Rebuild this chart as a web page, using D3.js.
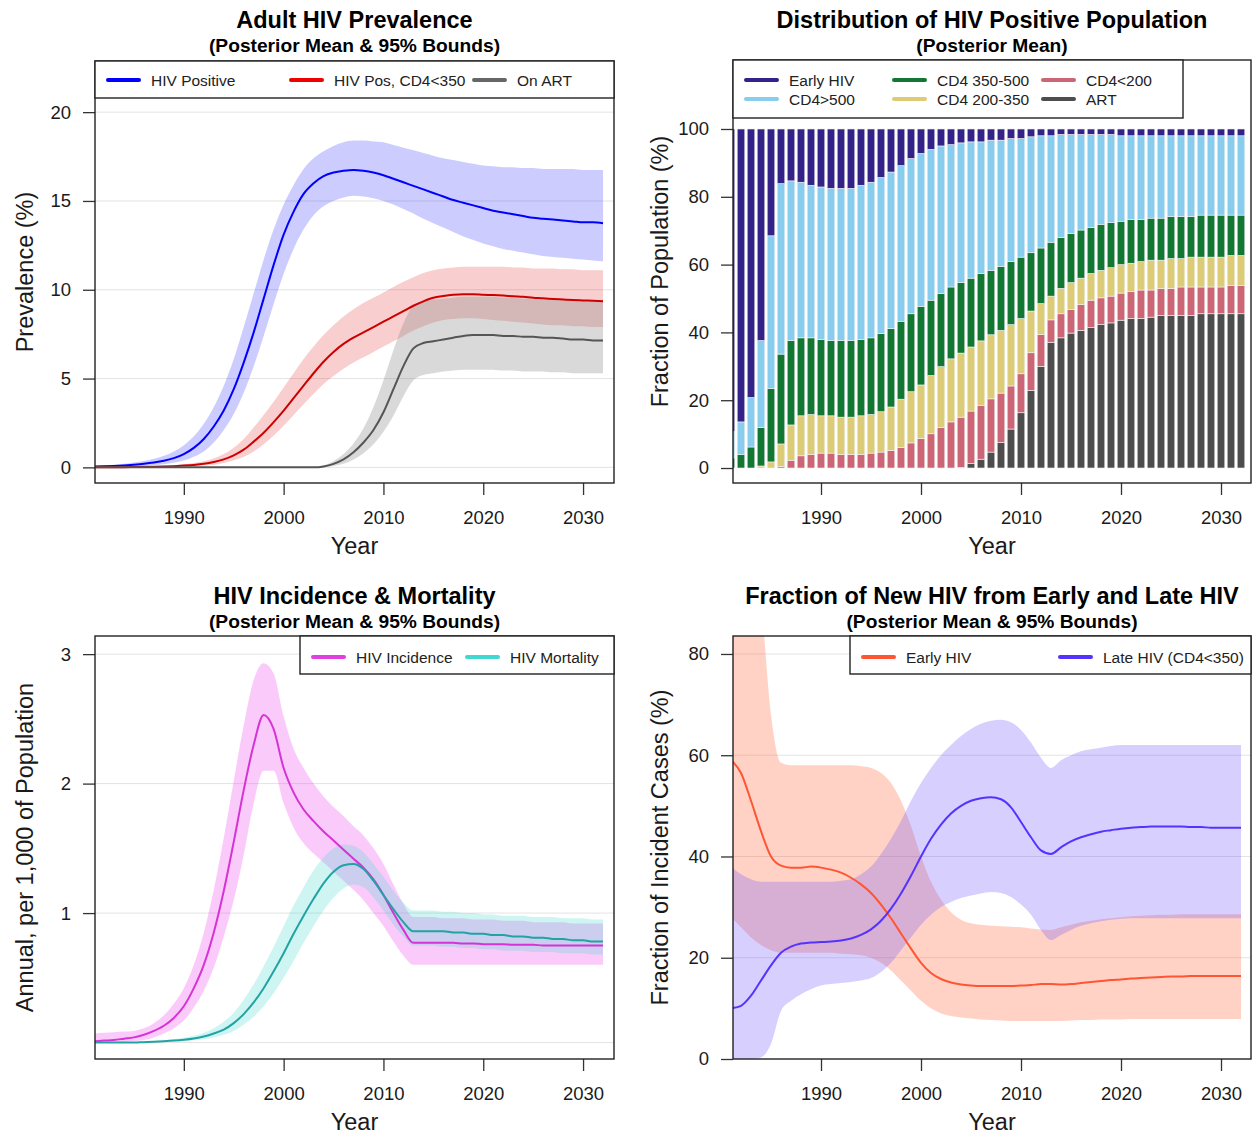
<!DOCTYPE html>
<html>
<head>
<meta charset="utf-8">
<script src="https://cdn.jsdelivr.net/npm/d3@7"></script>
<style>
  html, body { margin: 0; padding: 0; background: #fff; }
  svg { display: block; font-family: "Liberation Sans", Arial, sans-serif; }
</style>
</head>
<body>
<svg id="chart" width="1254" height="1135"></svg>
<script>
// ---- data ---------------------------------------------------------------
const years = d3.range(1981, 2033);
const xTicks = [1990, 2000, 2010, 2020, 2030];

// Adult HIV prevalence (%)
const prevMean = [0.05,0.06,0.08,0.11,0.15,0.2,0.27,0.37,0.52,0.75,1.1,1.6,2.3,3.2,4.4,5.9,7.6,9.5,11.4,13.1,14.4,15.4,16.0,16.4,16.6,16.7,16.75,16.7,16.6,16.45,16.25,16.05,15.85,15.65,15.45,15.25,15.05,14.9,14.75,14.6,14.45,14.35,14.25,14.15,14.05,14.0,13.95,13.9,13.85,13.8,13.8,13.75];
const prevHi = [0.1,0.12,0.15,0.2,0.27,0.36,0.48,0.65,0.9,1.25,1.75,2.45,3.4,4.6,6.1,7.9,9.8,11.7,13.4,14.8,15.9,16.8,17.4,17.8,18.1,18.3,18.4,18.4,18.35,18.3,18.15,18.0,17.85,17.7,17.55,17.4,17.3,17.2,17.1,17.0,16.95,16.9,16.9,16.85,16.85,16.8,16.8,16.8,16.8,16.75,16.75,16.75];
const prevLo = [0.01,0.02,0.03,0.05,0.07,0.1,0.13,0.18,0.26,0.38,0.6,0.9,1.4,2.1,3.0,4.2,5.7,7.4,9.2,10.9,12.3,13.4,14.2,14.7,15.0,15.2,15.3,15.25,15.15,15.0,14.8,14.55,14.3,14.0,13.75,13.5,13.25,13.0,12.8,12.6,12.45,12.3,12.2,12.1,12.0,11.9,11.85,11.8,11.75,11.7,11.65,11.6];
const cd4Mean = [0,0,0.01,0.01,0.02,0.03,0.04,0.05,0.07,0.1,0.14,0.2,0.3,0.45,0.68,1.0,1.45,1.95,2.55,3.2,3.9,4.6,5.3,5.95,6.5,6.95,7.3,7.6,7.9,8.2,8.5,8.8,9.1,9.35,9.55,9.65,9.72,9.75,9.75,9.72,9.7,9.67,9.63,9.6,9.55,9.52,9.48,9.45,9.42,9.4,9.38,9.35];
const cd4Hi = [0.01,0.01,0.02,0.03,0.04,0.05,0.07,0.09,0.12,0.17,0.24,0.34,0.5,0.75,1.1,1.6,2.25,2.95,3.7,4.5,5.3,6.1,6.8,7.45,8.0,8.5,8.9,9.25,9.55,9.85,10.15,10.45,10.7,10.95,11.1,11.2,11.25,11.3,11.3,11.3,11.3,11.3,11.25,11.25,11.2,11.2,11.2,11.15,11.15,11.1,11.1,11.1];
const cd4Lo = [0,0,0,0,0.01,0.01,0.02,0.03,0.04,0.05,0.07,0.1,0.15,0.25,0.4,0.6,0.9,1.3,1.8,2.35,2.95,3.55,4.15,4.7,5.15,5.55,5.9,6.2,6.5,6.8,7.1,7.4,7.7,7.95,8.15,8.3,8.35,8.4,8.4,8.35,8.3,8.25,8.2,8.15,8.1,8.05,8.0,8.0,7.95,7.95,7.9,7.9];
const artMean = [0,0,0,0,0,0,0,0,0,0,0,0,0,0,0,0,0,0,0,0,0,0,0,0.05,0.2,0.45,0.85,1.4,2.1,3.1,4.4,5.7,6.7,7.0,7.1,7.2,7.3,7.4,7.45,7.45,7.45,7.4,7.4,7.35,7.35,7.3,7.3,7.25,7.2,7.2,7.15,7.15];
const artHi = [0,0,0,0,0,0,0,0,0,0,0,0,0,0,0,0,0,0,0,0,0,0,0,0.1,0.35,0.75,1.35,2.2,3.4,4.9,6.6,8.1,9.1,9.35,9.45,9.5,9.55,9.6,9.6,9.6,9.6,9.55,9.55,9.5,9.5,9.5,9.45,9.45,9.4,9.4,9.4,9.4];
const artLo = [0,0,0,0,0,0,0,0,0,0,0,0,0,0,0,0,0,0,0,0,0,0,0,0.01,0.08,0.2,0.45,0.8,1.3,2.0,2.9,4.0,4.9,5.2,5.3,5.4,5.45,5.5,5.5,5.5,5.5,5.45,5.45,5.4,5.4,5.4,5.35,5.35,5.3,5.3,5.3,5.3];

// Distribution of the HIV positive population (% share per year)
const stageKeys = ["ART", "CD4<200", "CD4 200-350", "CD4 350-500", "CD4>500", "Early HIV"];
const shareArt = [0,0,0,0,0,0,0,0,0,0,0,0,0,0,0,0,0,0,0,0,0,0,0,0.2,1.3,2.6,4.7,7.5,11.5,16.3,22.9,30.0,37.1,38.4,39.8,40.6,41.4,42.3,42.8,43.6,44.1,44.1,44.5,45.0,45.0,45.0,45.0,45.5,45.5,45.5,45.5,45.5];
const shareLt200 = [0,0,0,0,0,0.5,2.3,3.6,4.0,4.4,4.4,4.0,4.0,4.0,4.4,4.7,5.2,6.1,7.4,8.7,10.1,11.9,13.6,14.8,15.5,15.9,15.7,14.6,12.7,11.5,11.1,9.4,6.6,7.1,7.0,7.6,8.1,7.9,7.9,8.0,7.9,8.4,8.0,7.9,7.9,8.4,8.4,7.9,7.9,7.9,8.3,8.3];
const share200to350 = [0,0,0,0.6,1.8,6.6,10.4,11.8,11.8,11.0,11.0,11.0,11.0,11.4,11.4,11.9,12.8,14.2,15.1,15.8,17.2,18.0,18.6,18.9,18.9,19.0,18.9,18.5,18.1,16.3,12.3,9.1,7.0,7.5,7.9,7.8,7.9,8.1,8.4,8.4,8.4,8.4,8.8,8.4,8.9,8.4,8.8,8.8,8.8,8.8,8.9,8.9];
const share350to500 = [3.0,4.0,6.2,11.3,21.7,26.5,24.9,23.0,22.6,22.5,22.2,22.6,22.6,22.5,22.6,23.1,23.1,23.0,23.0,23.2,22.2,21.6,21.2,20.8,20.3,19.9,19.0,18.9,18.6,18.1,17.2,16.4,15.9,15.0,14.5,14.2,13.6,13.6,13.3,12.8,12.9,12.4,12.4,12.4,12.4,12.4,12.0,12.4,12.4,12.4,11.9,11.9];
const shareGt500 = [7.7,9.6,14.6,25.7,45.0,50.3,47.1,45.9,45.0,45.0,44.9,44.9,44.9,45.5,45.9,46.0,46.2,45.9,45.8,45.1,44.5,43.5,42.0,41.2,40.2,38.8,38.4,37.2,36.3,35.0,34.2,33.1,31.4,30.4,29.2,28.2,27.4,26.5,26.0,25.2,24.7,24.7,24.3,24.3,23.8,23.8,23.8,23.4,23.4,23.4,23.4,23.4];
const shareEarly = [89.3,86.4,79.2,62.4,31.5,16.1,15.3,15.7,16.6,17.1,17.5,17.5,17.5,16.6,15.7,14.3,12.7,10.8,8.7,7.2,6.0,5.0,4.6,4.1,3.8,3.8,3.3,3.3,2.8,2.8,2.3,2.0,2.0,1.6,1.6,1.6,1.6,1.6,1.6,2.0,2.0,2.0,2.0,2.0,2.0,2.0,2.0,2.0,2.0,2.0,2.0,2.0];

// HIV incidence & mortality (annual, per 1,000)
const incMean = [0.01,0.015,0.02,0.03,0.04,0.06,0.09,0.13,0.19,0.28,0.42,0.6,0.85,1.17,1.55,1.95,2.3,2.53,2.42,2.12,1.93,1.8,1.71,1.63,1.56,1.49,1.42,1.35,1.26,1.14,1.0,0.87,0.77,0.77,0.77,0.77,0.77,0.765,0.765,0.76,0.76,0.76,0.755,0.755,0.755,0.75,0.75,0.75,0.75,0.75,0.75,0.75];
const incHi = [0.07,0.075,0.08,0.085,0.09,0.11,0.15,0.21,0.3,0.42,0.6,0.85,1.18,1.58,2.02,2.45,2.8,2.93,2.85,2.52,2.27,2.12,2.0,1.9,1.82,1.75,1.67,1.6,1.5,1.38,1.22,1.07,0.97,0.97,0.97,0.96,0.96,0.96,0.95,0.95,0.95,0.94,0.94,0.94,0.93,0.93,0.93,0.93,0.92,0.92,0.92,0.92];
const incLo = [0,0,0,0.005,0.01,0.02,0.04,0.07,0.11,0.17,0.27,0.4,0.58,0.82,1.1,1.45,1.85,2.1,2.1,1.85,1.66,1.54,1.46,1.39,1.32,1.25,1.18,1.1,1.0,0.9,0.78,0.67,0.6,0.6,0.6,0.6,0.6,0.6,0.6,0.6,0.6,0.6,0.6,0.6,0.6,0.6,0.6,0.6,0.6,0.6,0.6,0.6];
const mortMean = [0,0,0,0,0,0.003,0.006,0.01,0.015,0.022,0.032,0.047,0.07,0.1,0.15,0.22,0.31,0.42,0.55,0.69,0.84,0.98,1.11,1.23,1.32,1.37,1.38,1.34,1.25,1.14,1.03,0.93,0.86,0.86,0.86,0.86,0.85,0.85,0.84,0.84,0.83,0.83,0.82,0.82,0.81,0.81,0.8,0.8,0.79,0.79,0.78,0.78];
const mortHi = [0.005,0.005,0.005,0.005,0.006,0.008,0.012,0.018,0.026,0.037,0.052,0.075,0.11,0.16,0.23,0.33,0.45,0.59,0.74,0.9,1.06,1.2,1.33,1.43,1.5,1.53,1.52,1.47,1.38,1.28,1.17,1.08,1.02,1.02,1.02,1.01,1.01,1.0,1.0,0.99,0.99,0.98,0.98,0.98,0.97,0.97,0.97,0.96,0.96,0.96,0.95,0.95];
const mortLo = [0,0,0,0,0,0.001,0.002,0.004,0.007,0.011,0.017,0.026,0.04,0.06,0.09,0.14,0.2,0.28,0.38,0.5,0.63,0.77,0.9,1.02,1.12,1.19,1.22,1.2,1.12,1.02,0.91,0.82,0.75,0.75,0.75,0.74,0.74,0.73,0.73,0.72,0.72,0.71,0.71,0.71,0.7,0.7,0.7,0.69,0.69,0.69,0.68,0.68];

// Fraction of new infections from early and late HIV (%)
const earlyMean = [59,56.5,51,45,40,38.2,37.8,37.8,38.0,37.8,37.4,36.8,35.8,34.5,32.8,30.5,27.8,24.8,21.8,19.0,17.0,15.8,15.1,14.7,14.5,14.4,14.4,14.4,14.4,14.5,14.6,14.8,14.8,14.7,14.8,15.0,15.2,15.4,15.6,15.7,15.9,16.0,16.1,16.2,16.3,16.3,16.4,16.4,16.4,16.4,16.4,16.4];
const earlyHi = [100,100,100,90,68,58.5,58,58,58,58,58,58,58,57.8,57.5,56.5,54.5,51,46,40,35,31.5,29,27.5,26.8,26.5,26.3,26.2,26.1,26,25.8,25.6,25.5,26,26.5,27,27.3,27.6,27.8,28,28.2,28.3,28.4,28.5,28.5,28.6,28.6,28.6,28.6,28.6,28.6,28.6];
const earlyLo = [28,26,24,22.5,21.5,21,21,21,21,21,21,20.8,20.7,20.5,20,19,17.5,15.5,13.5,11.5,10,9,8.5,8.2,8,7.8,7.7,7.6,7.5,7.5,7.5,7.5,7.5,7.5,7.6,7.7,7.7,7.8,7.8,7.8,7.9,7.9,7.9,7.9,7.9,7.9,7.9,7.9,7.9,7.9,7.9,7.9];
const lateMean = [10,10.5,12.5,15.5,18.5,21,22.2,22.8,23,23.1,23.2,23.4,23.8,24.5,25.6,27.3,29.7,32.7,36.2,40,43.5,46.3,48.5,50,51,51.5,51.7,51.3,49.7,46.8,43.8,41.2,40.5,41.8,43,43.8,44.4,44.9,45.2,45.5,45.7,45.8,45.9,45.9,45.9,45.9,45.8,45.8,45.7,45.7,45.7,45.7];
const lateHi = [38,36.5,35.5,35,35,35,35,35,35,35,35,35.2,35.5,36.5,38,40.5,43.5,47,51,54.5,57.5,60,62,63.8,65.2,66.2,66.8,67,66.5,65,62.5,59.5,57.5,59,60,60.8,61.2,61.5,61.8,62,62,62,62,62,62,62,62,62,62,62,62,62];
const lateLo = [0,0,0,0.3,3,9.5,11.5,12.8,13.8,14.5,14.8,15,15.2,15.5,16,17.2,19,21.5,24,26.5,28.5,30,31,31.8,32.3,32.7,33,32.8,32,30.5,28.5,25.5,23.5,24.5,25.5,26.3,26.8,27.2,27.5,27.7,27.8,27.8,27.8,27.8,27.8,27.8,27.8,27.8,27.8,27.8,27.8,27.8];

// ---- drawing ----------------------------------------------------------------
const svg = d3.select("#chart");
const FONT = '"Liberation Sans", Arial, sans-serif';
const INK = "#1a1a1a";

function panel(cfg) {
  const g = svg.append("g");
  const x = d3.scaleLinear().domain(cfg.xDomain).range([cfg.x0, cfg.x1]);
  const y = d3.scaleLinear().domain(cfg.yDomain).range([cfg.y1, cfg.y0]);
  const clipId = "clip" + cfg.id;
  svg.append("clipPath").attr("id", clipId)
    .append("rect").attr("x", cfg.x0).attr("y", cfg.y0)
    .attr("width", cfg.x1 - cfg.x0).attr("height", cfg.y1 - cfg.y0);

  // gridlines
  g.append("g").selectAll("line").data(cfg.grid || []).join("line")
    .attr("x1", cfg.x0).attr("x2", cfg.x1)
    .attr("y1", d => y(d)).attr("y2", d => y(d))
    .attr("stroke", "#e3e3e3").attr("stroke-width", 1);

  const body = g.append("g").attr("clip-path", `url(#${clipId})`);

  // x axis
  const xAxis = g.append("g").attr("transform", `translate(0,${cfg.y1})`)
    .call(d3.axisBottom(x).tickValues(xTicks).tickFormat(d3.format("d")).tickSize(12).tickPadding(16));
  xAxis.select(".domain").remove();
  xAxis.selectAll("line").attr("stroke", "#333").attr("stroke-width", 1.3);
  xAxis.selectAll("text").attr("font-size", 18.5).attr("font-family", FONT).attr("fill", INK);

  // y axis
  const yAxis = g.append("g").attr("transform", `translate(${cfg.x0},0)`)
    .call(d3.axisLeft(y).tickValues(cfg.yTicks).tickFormat(d3.format("d")).tickSize(12).tickPadding(12));
  yAxis.select(".domain").remove();
  yAxis.selectAll("line").attr("stroke", "#333").attr("stroke-width", 1.3);
  yAxis.selectAll("text").attr("font-size", 18.5).attr("font-family", FONT).attr("fill", INK);

  // titles
  const cx = (cfg.x0 + cfg.x1) / 2;
  g.append("text").attr("x", cx).attr("y", cfg.titleY).attr("text-anchor", "middle")
    .attr("font-size", 23.5).attr("font-weight", "bold").attr("fill", "#000").text(cfg.title);
  g.append("text").attr("x", cx).attr("y", cfg.titleY + 24).attr("text-anchor", "middle")
    .attr("font-size", 19.2).attr("font-weight", "bold").attr("fill", "#000").text(cfg.subtitle);
  g.append("text").attr("x", cx).attr("y", cfg.y1 + 71).attr("text-anchor", "middle")
    .attr("font-size", 23.5).attr("fill", INK).text("Year");
  g.append("text")
    .attr("transform", `translate(${cfg.ylabX},${(cfg.y0 + cfg.y1) / 2}) rotate(-90)`)
    .attr("text-anchor", "middle").attr("font-size", 23.5).attr("fill", INK).text(cfg.ylab);

  return { g, body, x, y, cfg };
}

function frame(p) {
  const c = p.cfg;
  p.g.append("rect").attr("x", c.x0).attr("y", c.y0)
    .attr("width", c.x1 - c.x0).attr("height", c.y1 - c.y0)
    .attr("fill", "none").attr("stroke", "#222").attr("stroke-width", 1.4);
}

function band(p, lo, hi, fill, opacity) {
  const area = d3.area().curve(d3.curveMonotoneX)
    .x((d, i) => p.x(years[i])).y0((d, i) => p.y(lo[i])).y1((d, i) => p.y(hi[i]));
  p.body.append("path").datum(years).attr("d", area)
    .attr("fill", fill).attr("fill-opacity", opacity).attr("stroke", "none");
}

function line(p, vals, color, width) {
  const ln = d3.line().curve(d3.curveMonotoneX)
    .x((d, i) => p.x(years[i])).y(d => p.y(d));
  p.body.append("path").datum(vals).attr("d", ln)
    .attr("fill", "none").attr("stroke", color).attr("stroke-width", width || 2)
    .attr("stroke-linejoin", "round");
}

function legend(p, box, items) {
  p.g.append("rect").attr("x", box.x).attr("y", box.y).attr("width", box.w).attr("height", box.h)
    .attr("fill", "#fff").attr("stroke", "#222").attr("stroke-width", 1.4);
  items.forEach(it => {
    p.g.append("line").attr("x1", it.x).attr("x2", it.x + 31).attr("y1", it.y).attr("y2", it.y)
      .attr("stroke", it.color).attr("stroke-width", 4).attr("stroke-linecap", "round");
    p.g.append("text").attr("x", it.x + 43).attr("y", it.y + 5.5)
      .attr("font-size", 15.5).attr("fill", "#222").text(it.label);
  });
}

// ---- panel 1: Adult HIV prevalence ----
const p1 = panel({
  id: 1, x0: 95, x1: 614, y0: 61, y1: 483,
  xDomain: [1981.1, 2033.1], yDomain: [-0.88, 22.88],
  yTicks: [0, 5, 10, 15, 20], grid: [0, 5, 10, 15, 20],
  titleY: 28, title: "Adult HIV Prevalence", subtitle: "(Posterior Mean & 95% Bounds)",
  ylab: "Prevalence (%)", ylabX: 33
});
band(p1, prevLo, prevHi, "#0000ff", 0.2);
band(p1, cd4Lo, cd4Hi, "#e02020", 0.22);
band(p1, artLo, artHi, "#808080", 0.3);
line(p1, prevMean, "#0000ff");
line(p1, cd4Mean, "#cc0000");
line(p1, artMean, "#555555");
frame(p1);
legend(p1, { x: 95, y: 61, w: 519, h: 37 }, [
  { x: 108, y: 80, color: "#0000ff", label: "HIV Positive" },
  { x: 291, y: 80, color: "#ee0000", label: "HIV Pos, CD4<350" },
  { x: 474, y: 80, color: "#666666", label: "On ART" }
]);

// ---- panel 2: distribution of HIV positive population ----
const p2 = panel({
  id: 2, x0: 733, x1: 1251, y0: 60, y1: 483,
  xDomain: [1981.2, 2033.0], yDomain: [-4.42, 120.35],
  yTicks: [0, 20, 40, 60, 80, 100], grid: [],
  titleY: 28, title: "Distribution of HIV Positive Population", subtitle: "(Posterior Mean)",
  ylab: "Fraction of Population (%)", ylabX: 668
});
const stageColors = {
  "ART": "#4d4d4d", "CD4<200": "#cc6677", "CD4 200-350": "#ddcc77",
  "CD4 350-500": "#117733", "CD4>500": "#88ccee", "Early HIV": "#332288"
};
const stageRows = years.map((yr, i) => ({
  year: yr, "ART": shareArt[i], "CD4<200": shareLt200[i], "CD4 200-350": share200to350[i],
  "CD4 350-500": share350to500[i], "CD4>500": shareGt500[i], "Early HIV": shareEarly[i]
}));
const stacked = d3.stack().keys(stageKeys)(stageRows);
const barW = 7.6;
p2.body.selectAll("g.layer").data(stacked).join("g").attr("class", "layer")
  .attr("fill", d => stageColors[d.key])
  .selectAll("rect").data(d => d).join("rect")
  .attr("x", d => p2.x(d.data.year) - barW / 2)
  .attr("width", barW)
  .attr("y", d => p2.y(d[1]))
  .attr("height", d => Math.max(0, p2.y(d[0]) - p2.y(d[1])))
  .attr("stroke", "#f2f2f2").attr("stroke-width", 0.6);
frame(p2);
legend(p2, { x: 733, y: 60, w: 450, h: 58 }, [
  { x: 746, y: 80, color: "#332288", label: "Early HIV" },
  { x: 746, y: 99, color: "#88ccee", label: "CD4>500" },
  { x: 894, y: 80, color: "#117733", label: "CD4 350-500" },
  { x: 894, y: 99, color: "#ddcc77", label: "CD4 200-350" },
  { x: 1043, y: 80, color: "#cc6677", label: "CD4<200" },
  { x: 1043, y: 99, color: "#4d4d4d", label: "ART" }
]);

// ---- panel 3: incidence & mortality ----
const p3 = panel({
  id: 3, x0: 95, x1: 614, y0: 636, y1: 1059,
  xDomain: [1981.1, 2033.1], yDomain: [-0.127, 3.14],
  yTicks: [1, 2, 3], grid: [0, 1, 2, 3],
  titleY: 604, title: "HIV Incidence & Mortality", subtitle: "(Posterior Mean & 95% Bounds)",
  ylab: "Annual, per 1,000 of Population", ylabX: 33
});
band(p3, incLo, incHi, "#ee44ee", 0.28);
band(p3, mortLo, mortHi, "#40d8d0", 0.25);
line(p3, incMean, "#d633d6");
line(p3, mortMean, "#22a3a3");
frame(p3);
legend(p3, { x: 300, y: 636, w: 314, h: 38 }, [
  { x: 313, y: 657, color: "#e040e0", label: "HIV Incidence" },
  { x: 467, y: 657, color: "#40d8d0", label: "HIV Mortality" }
]);

// ---- panel 4: new infections from early vs late HIV ----
const p4 = panel({
  id: 4, x0: 733, x1: 1251, y0: 636, y1: 1059,
  xDomain: [1981.2, 2033.0], yDomain: [0, 83.55],
  yTicks: [0, 20, 40, 60, 80], grid: [20, 40, 60, 80],
  titleY: 604, title: "Fraction of New HIV from Early and Late HIV", subtitle: "(Posterior Mean & 95% Bounds)",
  ylab: "Fraction of Incident Cases (%)", ylabX: 668
});
band(p4, earlyLo, earlyHi, "#ff6a40", 0.3);
band(p4, lateLo, lateHi, "#6a50ff", 0.27);
line(p4, earlyMean, "#ff5533");
line(p4, lateMean, "#5533ff");
frame(p4);
legend(p4, { x: 850, y: 636, w: 401, h: 38 }, [
  { x: 863, y: 657, color: "#ff5533", label: "Early HIV" },
  { x: 1060, y: 657, color: "#5533ff", label: "Late HIV (CD4<350)" }
]);
</script>
</body>
</html>
